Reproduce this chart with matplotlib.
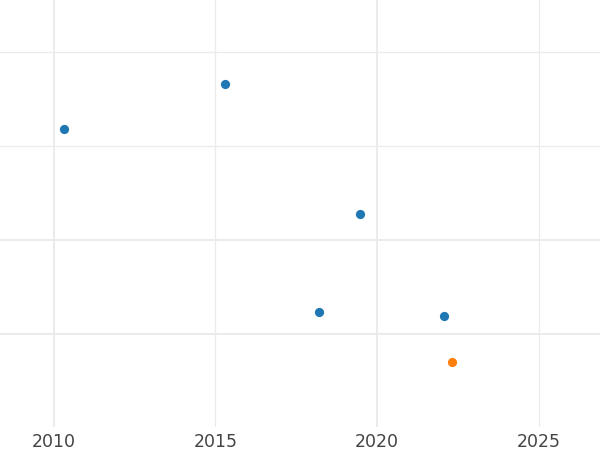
import numpy as np
import matplotlib.pyplot as plt
from matplotlib.ticker import FixedLocator, NullFormatter

# --- data (y in relative units, no labels shown) ---
years = [2010.33, 2015.30, 2019.47, 2018.20, 2022.06]
values = [3.18, 3.66, 2.28, 1.23, 1.19]
highlight_year = [2022.31]
highlight_value = [0.70]

major_x = [2010, 2020]
minor_x = [2015, 2025]
major_y = [1, 2]
minor_y = [3, 4]

fig, ax = plt.subplots(figsize=(6, 4.5), dpi=100)
fig.subplots_adjust(left=0, right=1, top=1, bottom=23 / 450)

ax.scatter(years, values, s=44, color='#1f77b4', zorder=3, linewidths=0)
ax.scatter(highlight_year, highlight_value, s=44, color='#ff7f0e', zorder=3, linewidths=0)

ax.set_xlim(2008.345, 2026.89)
ax.set_ylim(1 - 93 / 94, 1 + 334 / 94)

ax.xaxis.set_major_locator(FixedLocator(major_x))
ax.xaxis.set_minor_locator(FixedLocator(minor_x))
ax.xaxis.set_minor_formatter(lambda v, p: f'{v:.0f}')
ax.yaxis.set_major_locator(FixedLocator(major_y))
ax.yaxis.set_minor_locator(FixedLocator(minor_y))
ax.yaxis.set_major_formatter(NullFormatter())

ax.tick_params(axis='both', which='both', length=0, labelsize=12.5,
               labelcolor='#444444', pad=4.5)
ax.grid(True, which='major', color='#ebebeb', linewidth=1.4)
ax.grid(True, which='minor', color='#ebebeb', linewidth=0.9)
ax.set_axisbelow(True)

for s in ax.spines.values():
    s.set_visible(False)

fig.savefig('out.png', dpi=100)
